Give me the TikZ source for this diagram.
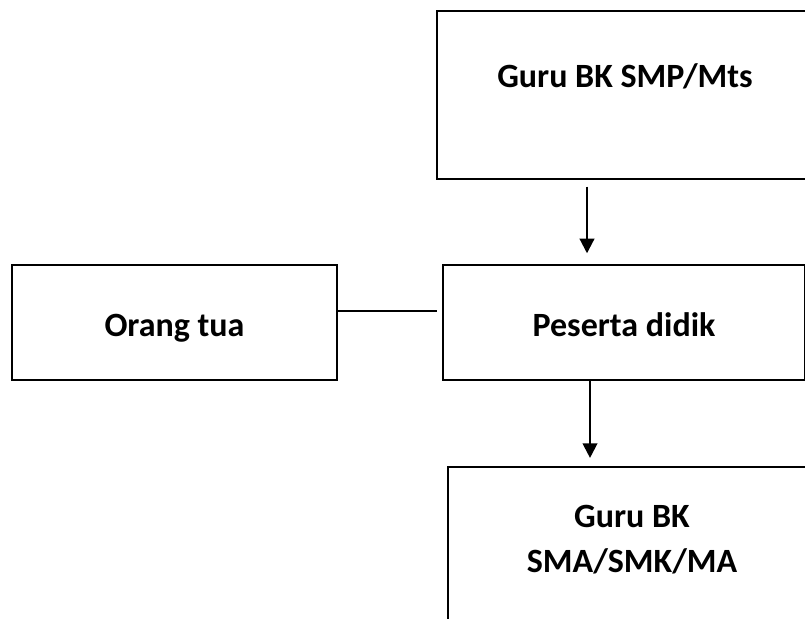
\documentclass[tikz,border=0pt]{standalone}
\usepackage{fontspec}
\setmainfont{Carlito}
\usetikzlibrary{arrows.meta}
\begin{document}
\begin{tikzpicture}[x=0.75pt,y=-0.75pt,
  box/.style={draw=black,line width=1.6pt,rectangle,inner sep=0pt},
  lbl/.style={font=\bfseries\fontsize{25.5}{30}\selectfont,anchor=base,inner sep=0pt},
  arr/.style={line width=1.6pt,-{Triangle[length=11pt,width=11pt]}},
  link/.style={line width=1.6pt}]
\clip (0,0) rectangle (805,618);
\fill[white] (0,0) rectangle (805,618);
% boxes
\node[box,minimum width=282pt,minimum height=126pt] (guru) at (625,95) {};
\node[box,minimum width=243.75pt,minimum height=86.25pt] (ortu) at (174.5,322.5) {};
\node[box,minimum width=271.5pt,minimum height=86.25pt] (pes) at (624,322.5) {};
\node[box,minimum width=276pt,minimum height=137.25pt] (sma) at (632,558.5) {};
% labels
\node[lbl] (tguru) at (625,87) {Guru BK SMP/Mts};
\node[lbl] (tortu) at (174.5,336) {Orang tua};
\node[lbl] (tpes) at (624,336) {Peserta didik};
\node[lbl] (tsma1) at (632,527) {Guru BK};
\node[lbl] (tsma2) at (632,572) {SMA/SMK/MA};
% connector helpers
\coordinate (xa) at (587,0);
\coordinate (xb) at (590,0);
\coordinate (yl) at (0,311);
% connectors
\draw[arr,shorten <=5pt,shorten >=8pt] (guru.south -| xa) -- (pes.north -| xa);
\draw[arr,shorten >=6pt] (pes.south -| xb) -- (sma.north -| xb);
\draw[link,shorten >=4pt] (ortu.east |- yl) -- (pes.west |- yl);
\end{tikzpicture}
\end{document}
